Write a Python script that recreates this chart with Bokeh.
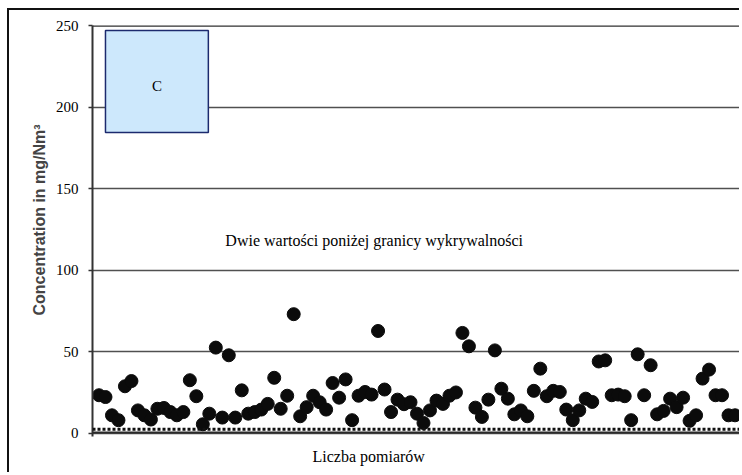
from bokeh.plotting import figure
from bokeh.models import Range1d, Label, Span, FixedTicker, Title
from bokeh.embed import file_html
from bokeh.resources import INLINE

# measurement number and concentration (mg/Nm3)
measurement = list(range(1, 100))
concentration = [
    23.3, 22.2, 11.0, 8.0, 28.8, 32.0, 14.0, 11.0, 8.4, 15.0,
    15.5, 13.0, 11.0, 13.0, 32.5, 22.7, 5.5, 12.0, 52.5, 9.6,
    47.8, 9.6, 26.3, 12.0, 13.0, 14.5, 18.0, 34.0, 15.0, 23.0,
    73.0, 10.4, 16.0, 23.0, 19.0, 14.5, 30.8, 21.8, 33.0, 8.0,
    23.0, 25.3, 23.7, 62.7, 26.8, 13.0, 20.6, 17.8, 19.0, 12.0,
    6.3, 14.0, 20.0, 18.0, 23.0, 25.0, 61.5, 53.3, 15.7, 10.0,
    20.6, 50.8, 27.3, 21.2, 11.6, 14.0, 10.4, 26.0, 39.6, 22.7,
    26.0, 25.3, 14.5, 8.0, 14.0, 21.2, 19.2, 44.0, 44.7, 23.3,
    23.7, 22.7, 8.0, 48.4, 23.3, 41.7, 11.6, 13.7, 21.2, 16.0,
    21.8, 7.6, 11.0, 33.5, 39.0, 23.3, 23.3, 11.0, 11.0,
]
y_ticks = [0, 50, 100, 150, 200, 250]
box_C = dict(left=2.0, right=17.85, bottom=184.4, top=247.0)

p = figure(width=732, height=464, output_backend="svg", toolbar_location=None,
           x_range=Range1d(0, 100), y_range=Range1d(-2, 250),
           min_border_left=83, min_border_right=0, min_border_top=15, min_border_bottom=38)
p.margin = (8, 0, 0, 7)
p.styles = {"border-left": "2px solid #111111", "border-top": "2px solid #111111"}
p.outline_line_color = None
p.background_fill_color = "white"
p.border_fill_color = "white"

# grid
p.xgrid.visible = False
p.ygrid.ticker = FixedTicker(ticks=y_ticks)
p.ygrid.grid_line_color = "#505050"
p.ygrid.grid_line_width = 1.5

# axes
p.xaxis.visible = False
ax = p.yaxis[0]
ax.ticker = FixedTicker(ticks=y_ticks)
ax.axis_line_color = "#333333"
ax.axis_line_width = 2
ax.major_tick_line_color = "#333333"
ax.major_tick_line_width = 1.5
ax.major_tick_out = 4
ax.major_tick_in = 0
ax.minor_tick_line_color = None
ax.major_label_text_font = "Liberation Serif"
ax.major_label_text_font_size = "15px"
ax.major_label_text_color = "black"
ax.major_label_standoff = 10

# y label
p.add_layout(Title(text="Concentration in mg/Nm³", align="left", offset=121, standoff=10,
                   text_font="Liberation Sans", text_font_style="bold", text_font_size="16px",
                   text_color="#444444"), "left")

# x label
p.add_layout(Title(text="Liczba pomiarów", align="left", offset=220, standoff=19,
                   text_font="Liberation Serif", text_font_size="16px", text_font_style="normal",
                   text_color="black"), "below")

# top line
p.add_layout(Span(location=250, dimension="width", line_color="#303030", line_width=2.5))

# zero baseline with dotted row
p.add_layout(Span(location=0.5, dimension="width", line_color="#2a2a2a", line_width=2))
p.add_layout(Span(location=2.4, dimension="width", line_color="#111111", line_width=3, line_dash="3 2"))

# points
p.scatter(measurement, concentration, size=13, color="#0b0b0b", marker="circle")

# box C
p.quad(left=[box_C["left"]], right=[box_C["right"]], bottom=[box_C["bottom"]], top=[box_C["top"]],
       fill_color="#cde8fc", line_color="#1c2a6e", line_width=1.5)
p.add_layout(Label(x=(box_C["left"] + box_C["right"]) / 2, y=(box_C["bottom"] + box_C["top"]) / 2 - 3,
                   text="C", text_align="center", text_baseline="middle",
                   text_font="Liberation Serif", text_font_size="15px", text_color="black"))

# note
p.add_layout(Label(x=43.4, y=118.3, text="Dwie wartości poniżej granicy wykrywalności",
                   text_align="center", text_baseline="middle",
                   text_font="Liberation Serif", text_font_size="16px", text_color="black"))

open("out.html", "w").write(file_html(p, INLINE))
